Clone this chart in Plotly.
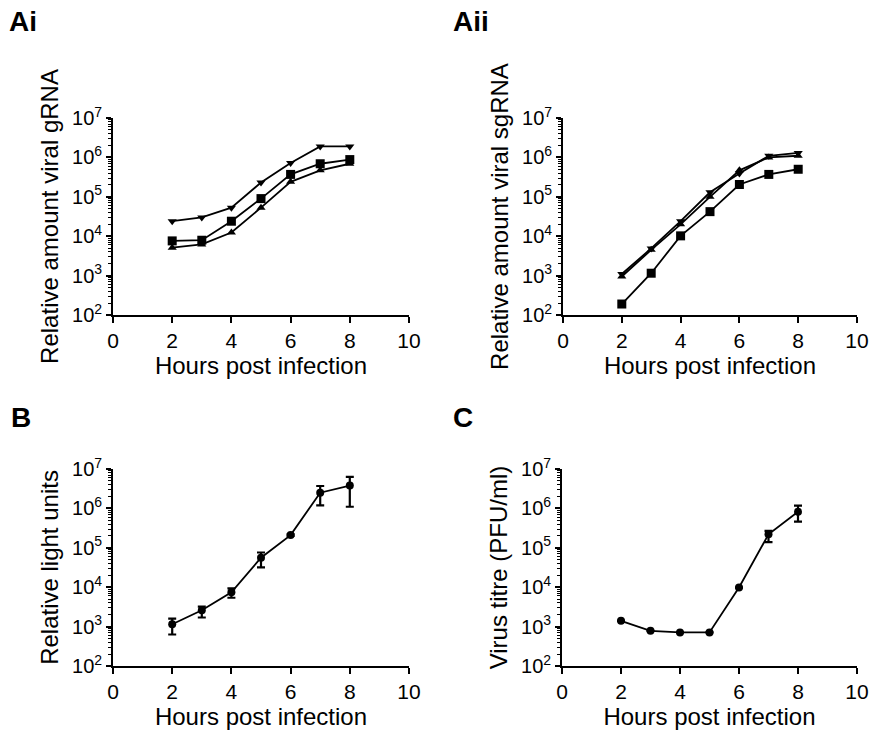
import plotly.graph_objects as go

# ---------------- data ----------------
hours = [2, 3, 4, 5, 6, 7, 8]

# Ai: relative amount viral gRNA
gRNA_down = [2.4e4, 3.0e4, 5.3e4, 2.3e5, 7.2e5, 1.9e6, 1.9e6]
gRNA_square = [7.6e3, 7.9e3, 2.4e4, 9.0e4, 3.7e5, 6.9e5, 8.8e5]
gRNA_up = [5.1e3, 6.2e3, 1.24e4, 5.3e4, 2.4e5, 4.7e5, 6.9e5]

# Aii: relative amount viral sgRNA
sgRNA_down = [1.1e3, 4.9e3, 2.4e4, 1.3e5, 3.9e5, 1.1e6, 1.3e6]
sgRNA_square = [190, 1.15e3, 1.02e4, 4.2e4, 2.05e5, 3.7e5, 5.0e5]
sgRNA_up = [950, 4.5e3, 2.0e4, 1.0e5, 4.7e5, 1.0e6, 1.1e6]

# B: relative light units (mean, upper, lower)
rlu_mean = [1.15e3, 2.6e3, 7.4e3, 5.6e4, 2.1e5, 2.5e6, 3.8e6]
rlu_upper = [1.6e3, 3.2e3, 9.3e3, 7.6e4, 2.2e5, 3.7e6, 6.3e6]
rlu_lower = [6.3e2, 1.7e3, 5.4e3, 3.2e4, 2.0e5, 1.2e6, 1.1e6]

# C: virus titre (PFU/ml)
titre_mean = [1.4e3, 780, 710, 710, 9.8e3, 2.2e5, 8.2e5]
titre_upper = [1.4e3, 780, 710, 710, 9.8e3, 2.7e5, 1.17e6]
titre_lower = [1.4e3, 780, 710, 710, 9.8e3, 1.4e5, 4.6e5]

x_ticks = [0, 2, 4, 6, 8, 10]
y_tickvals = [1e2, 1e3, 1e4, 1e5, 1e6, 1e7]
y_ticktext = ["10<sup>2</sup>", "10<sup>3</sup>", "10<sup>4</sup>",
              "10<sup>5</sup>", "10<sup>6</sup>", "10<sup>7</sup>"]

panel_labels = ["Ai", "Aii", "B", "C"]
y_titles = ["Relative amount viral gRNA", "Relative amount viral sgRNA",
            "Relative light units", "Virus titre (PFU/ml)"]
x_title = "Hours post infection"

# ---------------- figure ----------------
W, H = 870, 730
FONT = "Arial, Liberation Sans, sans-serif"
fig = go.Figure()

line = dict(color="black", width=1.8)

def add_series(y, symbol, xa, ya, size=8, err=None):
    tr = dict(x=hours, y=y, mode="lines+markers", xaxis=xa, yaxis=ya,
              line=line, marker=dict(symbol=symbol, size=size, color="black"),
              showlegend=False)
    if err is not None:
        up, lo = err
        tr["error_y"] = dict(type="data", symmetric=False,
                             array=[u - m for u, m in zip(up, y)],
                             arrayminus=[m - l for m, l in zip(y, lo)],
                             color="black", thickness=2.2, width=4)
    fig.add_trace(go.Scatter(**tr))

add_series(gRNA_down, "triangle-down", "x", "y")
add_series(gRNA_square, "square", "x", "y", size=9)
add_series(gRNA_up, "triangle-up", "x", "y")

add_series(sgRNA_down, "triangle-down", "x2", "y2")
add_series(sgRNA_square, "square", "x2", "y2", size=9)
add_series(sgRNA_up, "triangle-up", "x2", "y2")

add_series(rlu_mean, "circle", "x3", "y3", size=8, err=(rlu_upper, rlu_lower))
add_series(titre_mean, "circle", "x4", "y4", size=8, err=(titre_upper, titre_lower))

def px_x(p):
    return p / W

def px_y(p):
    return 1 - p / H

domains = [
    ((113, 409), (118, 315)),
    ((563, 857), (118, 315)),
    ((113, 409), (469, 666)),
    ((562, 857), (469, 666)),
]

layout = dict(width=W, height=H, margin=dict(l=0, r=0, t=0, b=0, pad=0),
              template="none",
              plot_bgcolor="white", paper_bgcolor="white",
              font=dict(family=FONT, color="black"))

for i, ((x0, x1), (y0, y1)) in enumerate(domains):
    sfx = "" if i == 0 else str(i + 1)
    layout["xaxis" + sfx] = dict(
        domain=[px_x(x0), px_x(x1)], range=[0, 10], anchor="y" + sfx,
        automargin=False,
        tickvals=x_ticks, ticks="outside", ticklen=6, tickwidth=1.8,
        tickcolor="black", showline=True, linecolor="black", linewidth=1.8,
        showgrid=False, zeroline=False,
        tickfont=dict(size=21, family=FONT, color="black"),
        title=dict(text=x_title, font=dict(size=24, family=FONT, color="black"),
                   standoff=3),
    )
    layout["yaxis" + sfx] = dict(
        domain=[px_y(y1), px_y(y0)], type="log", range=[2, 7], anchor="x" + sfx,
        automargin=False,
        tickvals=y_tickvals, ticktext=y_ticktext, ticks="outside", ticklen=5,
        tickwidth=1.8, tickcolor="black", showline=True, linecolor="black",
        linewidth=1.8, showgrid=False, zeroline=False,
        tickfont=dict(size=20, family=FONT, color="black"),
        minor=dict(ticks="outside", ticklen=3, tickwidth=1, tickcolor="black",
                   dtick="D1", showgrid=False),
        title=dict(text=y_titles[i], font=dict(size=24, family=FONT, color="black"),
                   standoff=7),
    )

label_pos = [(7, 22), (451, 22), (9, 417), (451, 417)]
annotations = []
for lab, (lx, ly) in zip(panel_labels, label_pos):
    annotations.append(dict(text="<b>%s</b>" % lab, x=px_x(lx), y=px_y(ly),
                            xref="paper", yref="paper", xanchor="left",
                            yanchor="middle", showarrow=False,
                            font=dict(size=28, family=FONT, color="black")))
layout["annotations"] = annotations

fig.update_layout(**layout)
fig.write_html("out.html",
               config={"displayModeBar": False},
               post_script="document.body.style.margin='0px';"
                           "document.body.style.padding='0px';"
                           "document.body.style.overflow='hidden';")
